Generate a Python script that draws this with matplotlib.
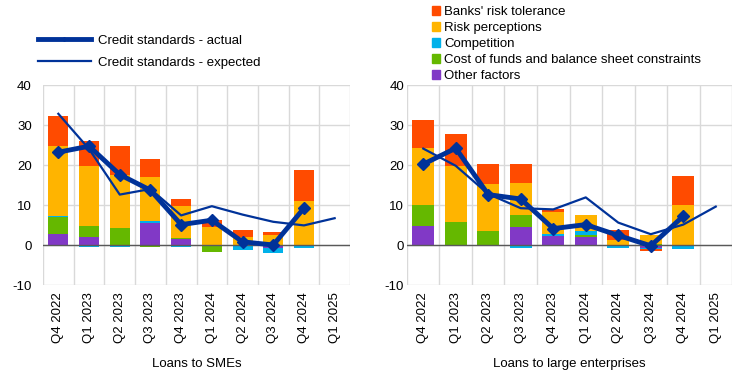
import numpy as np
import matplotlib
matplotlib.use("Agg")
import matplotlib.pyplot as plt
from matplotlib.patches import Patch
from matplotlib.lines import Line2D

plt.rcParams['font.family'] = ['Liberation Sans', 'DejaVu Sans']
plt.rcParams['font.size'] = 9
plt.rcParams['axes.unicode_minus'] = False

quarters = ["Q4 2022", "Q1 2023", "Q2 2023", "Q3 2023", "Q4 2023",
            "Q1 2024", "Q2 2024", "Q3 2024", "Q4 2024", "Q1 2025"]

# Loans to SMEs (9 survey rounds with bars, expected goes one further)
sme_other = [2.8, 2.1, 0.0, 5.4, 1.4, 0.0, 0.0, -0.8, 0.0]
sme_cost = [4.2, 2.7, 4.2, -0.4, 0.3, -1.8, 0.0, 0.0, 0.0]
sme_comp = [0.2, -0.4, -0.4, 0.7, -0.4, 0.0, -1.3, -1.3, -0.8]
sme_risk = [17.6, 15.0, 13.4, 11.0, 8.1, 4.4, 2.1, 2.6, 11.1]
sme_tol = [7.5, 6.3, 7.2, 4.5, 1.8, 1.9, 1.7, 0.7, 7.7]
sme_actual = [23.2, 24.7, 17.6, 13.7, 5.1, 6.2, 0.8, 0.0, 9.2]
sme_expected = [32.8, 24.0, 12.6, 14.0, 7.4, 9.7, 7.6, 5.8, 4.9, 6.7]

# Loans to large enterprises
le_other = [4.8, 0.0, 0.0, 4.6, 2.3, 1.9, 0.0, -0.8, 0.0]
le_cost = [5.3, 5.8, 3.6, 3.0, -0.3, 0.7, 0.1, 0.2, 0.0]
le_comp = [-0.3, 0.0, -0.3, -0.8, 0.5, 1.0, -0.8, -0.3, -1.1]
le_risk = [14.2, 14.0, 11.7, 8.0, 5.5, 4.0, 1.1, 2.4, 10.1]
le_tol = [7.0, 8.0, 5.0, 4.7, 0.8, -0.3, 2.5, -0.5, 7.2]
le_actual = [20.2, 24.2, 12.6, 11.5, 4.1, 5.1, 2.4, -0.2, 7.2]
le_expected = [24.1, 19.8, 12.75, 9.2, 8.9, 11.9, 5.6, 2.7, 5.1, 9.6]

factor_names = ["Other factors", "Cost of funds and balance sheet constraints",
                "Competition", "Risk perceptions", "Banks' risk tolerance"]
colors = ["#8139C6", "#65B800", "#00B1EA", "#FFB400", "#FF4B00"]
blue = "#003299"


def panel(ax, factors, actual, expected, xlabel, width, ypad):
    x = np.arange(len(factors[0]))
    pos = np.zeros(len(x))
    neg = np.zeros(len(x))
    for vals, c in zip(factors, colors):
        vals = np.array(vals)
        base = np.where(vals >= 0, pos, neg)
        ax.bar(x, vals, width, bottom=base, color=c, zorder=2)
        pos = pos + np.clip(vals, 0, None)
        neg = neg + np.clip(vals, None, 0)
    ax.plot(np.arange(len(expected)), expected, color=blue, lw=1.6, zorder=4)
    ax.plot(x, actual, color=blue, lw=3.5, marker="D", ms=6, zorder=5)
    ax.axhline(0, color="#595959", lw=1, zorder=3)
    ax.set_xlim(-0.5, len(quarters) - 0.5)
    ax.set_ylim(-10, 40)
    ax.set_yticks([-10, 0, 10, 20, 30, 40])
    ax.set_xticks(np.arange(len(quarters)))
    ax.set_xticklabels(quarters, rotation=90)
    ax.set_xticks(np.arange(len(quarters) + 1) - 0.5, minor=True)
    ax.grid(True, which="minor", axis="x", color="#d9d9d9", lw=1, zorder=0)
    ax.grid(True, which="major", axis="y", color="#d9d9d9", lw=1, zorder=0)
    ax.tick_params(which="both", length=0, labelsize=9.5)
    ax.tick_params(axis="y", pad=ypad)
    ax.tick_params(axis="x", pad=5)
    for s in ax.spines.values():
        s.set_visible(False)
    ax.set_xlabel(xlabel, fontsize=9.5, labelpad=11)


fig = plt.figure(figsize=(7.44, 3.78), dpi=100)
ax1 = fig.add_axes([43 / 744, 1 - 285 / 378, 307 / 744, 200 / 378])
ax2 = fig.add_axes([407 / 744, 1 - 285 / 378, 325 / 744, 200 / 378])

panel(ax1, [sme_other, sme_cost, sme_comp, sme_risk, sme_tol],
      sme_actual, sme_expected, "Loans to SMEs", 0.65, 8)
panel(ax2, [le_other, le_cost, le_comp, le_risk, le_tol],
      le_actual, le_expected, "Loans to large enterprises", 0.68, 2)

line_handles = [Line2D([], [], color=blue, lw=3.5, marker="D", ms=2),
                Line2D([], [], color=blue, lw=1.6)]
fig.legend(line_handles, ["Credit standards - actual", "Credit standards - expected"],
           loc="upper left", bbox_to_anchor=(0.035, 0.94), frameon=False,
           fontsize=9.5, handlelength=4.0, handletextpad=0.55, labelspacing=0.75)

bar_handles = [Patch(color=c) for c in colors[::-1]]
fig.legend(bar_handles, factor_names[::-1], loc="upper left",
           bbox_to_anchor=(0.565, 1.015), frameon=False, fontsize=9.5,
           handlelength=0.6, handleheight=0.6, handletextpad=0.3, labelspacing=0.3)

fig.savefig("out.png", dpi=100)
